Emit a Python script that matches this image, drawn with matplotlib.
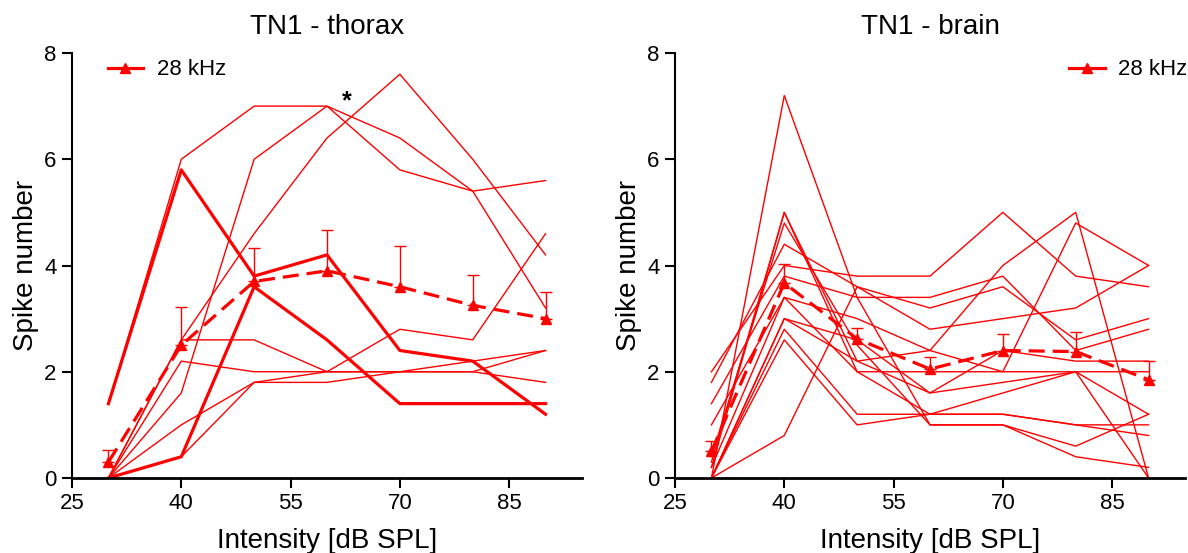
import numpy as np
import matplotlib.pyplot as plt
from matplotlib.lines import Line2D

plt.rcParams['font.family'] = ['Liberation Sans', 'DejaVu Sans']

intensity = [30, 40, 50, 60, 70, 80, 90]

# TN1 - thorax: single recordings (thin), two highlighted (thick), mean + SE
thorax_thin = [
    [1.4, 6.0, 7.0, 7.0, 6.4, 5.4, 3.2],
    [0.0, 1.6, 6.0, 7.0, 5.8, 5.4, 5.6],
    [0.0, 2.6, 4.6, 6.4, 7.6, 6.0, 4.2],
    [0.0, 2.6, 2.6, 2.0, 2.8, 2.6, 4.6],
    [0.0, 2.2, 2.0, 2.0, 2.0, 2.0, 1.8],
    [0.0, 1.0, 1.8, 1.8, 2.0, 2.2, 2.4],
    [0.0, 0.4, 1.8, 2.0, 2.0, 2.0, 2.4],
]
thorax_thick = [
    [1.4, 5.8, 3.8, 4.2, 2.4, 2.2, 1.2],
    [0.0, 0.4, 3.6, 2.6, 1.4, 1.4, 1.4],
]
thorax_mean = [0.3, 2.5, 3.7, 3.9, 3.6, 3.25, 3.0]
thorax_err = [0.22, 0.72, 0.62, 0.77, 0.77, 0.58, 0.5]

# TN1 - brain
brain_thin = [
    [0.0, 7.2, 3.4, 1.0, 1.0, 0.4, 0.2],
    [0.0, 0.8, 3.6, 2.8, 3.0, 3.2, 4.0],
    [0.2, 5.0, 2.0, 1.2, 1.2, 1.0, 1.0],
    [0.3, 5.0, 2.2, 1.6, 1.8, 2.0, 1.2],
    [0.4, 4.8, 2.5, 1.0, 1.0, 0.6, 1.2],
    [2.0, 4.0, 3.8, 3.8, 5.0, 3.8, 3.6],
    [1.8, 4.4, 3.6, 3.2, 3.6, 2.6, 3.0],
    [1.4, 3.8, 3.4, 3.4, 3.8, 2.4, 2.8],
    [1.0, 3.4, 3.0, 2.4, 2.0, 4.8, 4.0],
    [0.2, 3.4, 2.0, 2.0, 2.0, 2.0, 2.0],
    [0.0, 3.0, 2.2, 2.4, 4.0, 5.0, 0.0],
    [0.0, 3.0, 2.6, 1.6, 2.4, 2.2, 2.2],
    [0.0, 2.8, 1.2, 1.2, 1.2, 1.0, 0.8],
    [0.0, 2.6, 1.0, 1.2, 1.6, 2.0, 0.0],
]
brain_mean = [0.5, 3.67, 2.62, 2.05, 2.4, 2.38, 1.85]
brain_err = [0.2, 0.36, 0.21, 0.23, 0.31, 0.36, 0.35]

RED = '#ff0000'


def draw_panel(ax, thin, thick, mean, err, title):
    for ys in thin:
        ax.plot(intensity, ys, color=RED, lw=1.0)
    for ys in thick:
        ax.plot(intensity, ys, color=RED, lw=2.3)
    ax.errorbar(intensity, mean, yerr=[np.zeros(len(err)), err], fmt='none',
                ecolor=RED, elinewidth=1.0, capsize=4, capthick=1.0)
    ax.plot(intensity, mean, color=RED, lw=2.3, ls=(0, (5, 2.5)),
            marker='^', ms=7, clip_on=False)

    ax.set_xlim(25, 95)
    ax.set_ylim(0, 8)
    ax.set_xticks([25, 40, 55, 70, 85])
    ax.set_yticks([0, 2, 4, 6, 8])
    for s in ['top', 'right']:
        ax.spines[s].set_visible(False)
    ax.spines['left'].set_linewidth(1.5)
    ax.spines['bottom'].set_linewidth(2.0)
    ax.tick_params(direction='out', length=7, width=1.5, labelsize=16, pad=4)
    ax.set_title(title, fontsize=20, pad=14)
    ax.set_xlabel('Intensity [dB SPL]', fontsize=20, labelpad=10)
    ax.set_ylabel('Spike number', fontsize=20, labelpad=4)


fig = plt.figure(figsize=(11.88, 5.53), dpi=100)
ax1 = fig.add_axes([72 / 1188, 75 / 553, 510 / 1188, 425 / 553])
ax2 = fig.add_axes([675 / 1188, 75 / 553, 510 / 1188, 425 / 553])

draw_panel(ax1, thorax_thin, thorax_thick, thorax_mean, thorax_err, 'TN1 - thorax')
draw_panel(ax2, brain_thin, [], brain_mean, brain_err, 'TN1 - brain')

handle = Line2D([], [], color=RED, lw=2.3, marker='^', ms=7)
ax1.legend([handle], ['28 kHz'], loc='upper left', bbox_to_anchor=(0.07, 0.985),
           frameon=False, fontsize=16, handlelength=1.6, handletextpad=0.6,
           borderpad=0, borderaxespad=0)
ax2.legend([handle], ['28 kHz'], loc='upper right', bbox_to_anchor=(1.005, 0.985),
           frameon=False, fontsize=16, handlelength=1.6, handletextpad=0.6,
           borderpad=0, borderaxespad=0)

ax1.text(62.7, 7.1, '*', fontsize=18, fontweight='bold', ha='center', va='center')

fig.savefig('out.png', dpi=100)
